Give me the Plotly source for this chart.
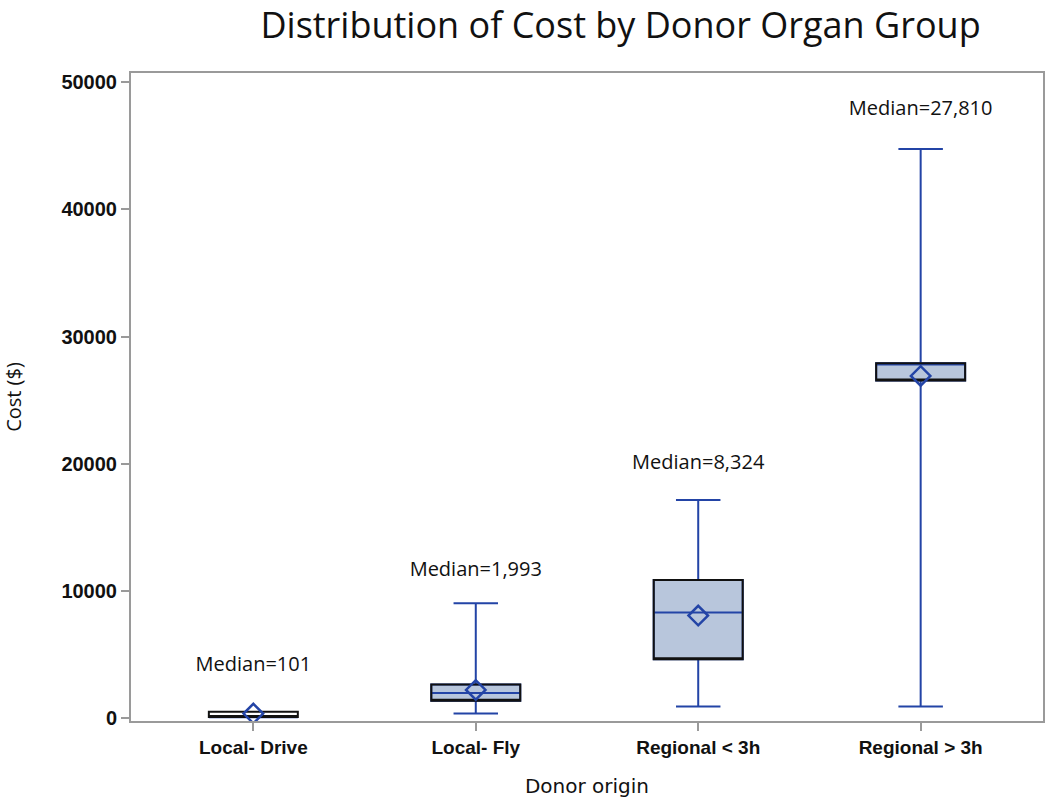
import plotly.graph_objects as go

categories = ["Local- Drive", "Local- Fly", "Regional < 3h", "Regional > 3h"]
lower_whisker = [0, 380, 930, 930]
q1 = [110, 1400, 4650, 26540]
median = [101, 1993, 8324, 27810]
q3 = [530, 2660, 10880, 27900]
upper_whisker = [620, 9050, 17160, 44730]
mean = [380, 2240, 8080, 26900]
median_labels = ["Median=101", "Median=1,993", "Median=8,324", "Median=27,810"]
label_y = [4100, 11600, 20000, 47800]

BLUE = "#2344a6"
FILL = "#b8c6dc"

fig = go.Figure()

# Blue box: whiskers, median line, fill
fig.add_trace(go.Box(
    x=categories, q1=q1, median=median, q3=q3,
    lowerfence=lower_whisker, upperfence=upper_whisker,
    fillcolor=FILL, line=dict(color=BLUE, width=2),
    whiskerwidth=0.5, width=0.4, boxpoints=False, hoverinfo="skip",
    showlegend=False,
))
# Black outline of the box (Q1-Q3)
fig.add_trace(go.Box(
    x=categories, q1=q1, median=q1, q3=q3,
    lowerfence=q1, upperfence=q3,
    fillcolor="rgba(0,0,0,0)", line=dict(color="#111111", width=2),
    whiskerwidth=0, width=0.4, boxpoints=False, hoverinfo="skip",
    showlegend=False,
))
# Mean diamonds
fig.add_trace(go.Scatter(
    x=categories, y=mean, mode="markers",
    marker=dict(symbol="diamond-open", size=15, color=BLUE, line=dict(width=2.5, color=BLUE)),
    showlegend=False, hoverinfo="skip",
))
# Median labels
fig.add_trace(go.Scatter(
    x=categories, y=label_y, mode="text", text=median_labels,
    textfont=dict(family="Open Sans", size=20, color="#111111"),
    showlegend=False, hoverinfo="skip",
))

axis_common = dict(
    showline=True, linecolor="#9a9a9a", linewidth=2, mirror=True,
    ticks="outside", tickcolor="#9a9a9a", ticklen=8, tickwidth=2,
    showgrid=False, zeroline=False,
)

fig.update_layout(
    width=1050, height=800,
    paper_bgcolor="white", plot_bgcolor="white",
    margin=dict(l=131, r=5, t=73, b=79),
    boxmode="overlay",
    title=dict(text="Distribution of Cost by Donor Organ Group",
               font=dict(family="Open Sans", size=36, color="#111111"),
               x=0.591, xanchor="center", y=0.968, yanchor="middle"),
    xaxis=dict(**axis_common, range=[-0.55, 3.55],
               title=dict(text="Donor origin", font=dict(family="DejaVu Sans", size=20, color="#111111"), standoff=22),
               tickfont=dict(family="Liberation Sans", size=19, color="#111111", weight="bold")),
    yaxis=dict(**axis_common, range=[-200, 50700],
               tickvals=[0, 10000, 20000, 30000, 40000, 50000],
               ticktext=["0", "10000", "20000", "30000", "40000", "50000"],
               title=dict(text="Cost ($)", font=dict(family="Open Sans", size=20, color="#111111"), standoff=34),
               tickfont=dict(family="Liberation Sans", size=20, color="#111111", weight="bold")),
)

fig.write_html(
    "out.html",
    config={"displayModeBar": False},
    post_script="document.body.style.margin='0';document.body.style.overflow='hidden';",
)
